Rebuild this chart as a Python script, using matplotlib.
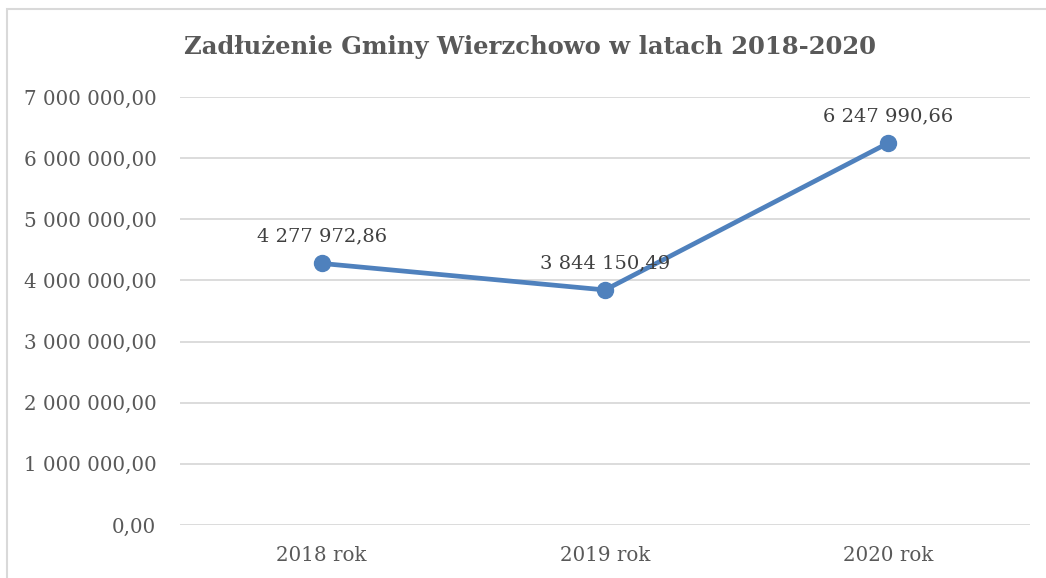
import matplotlib.pyplot as plt
from matplotlib.ticker import FuncFormatter
from matplotlib.patches import Rectangle

# dane
years = ['2018 rok', '2019 rok', '2020 rok']
debt = [4277972.86, 3844150.49, 6247990.66]
y_ticks = [0, 1000000, 2000000, 3000000, 4000000, 5000000, 6000000, 7000000]


def pl_format(v, pos=None):
    s = f'{v:,.2f}'
    return s.replace(',', ' ').replace('.', ',')


plt.rcParams['font.family'] = ['DejaVu Serif']

fig = plt.figure(figsize=(10.46, 5.78), dpi=100)
ax = fig.add_axes([0.1721, 0.0917, 0.8126, 0.7405])

x = range(len(years))
ax.plot(x, debt, color='#4f81bd', linewidth=3.4, marker='o', markersize=11.5, zorder=3)

for xi, v in zip(x, debt):
    ax.annotate(pl_format(v), (xi, v), xytext=(0, 13), textcoords='offset points',
                ha='center', va='bottom', fontsize=14, color='#404040')

ax.set_xlim(-0.5, len(years) - 0.5)
ax.set_ylim(0, 7000000)
ax.set_yticks(y_ticks)
ax.yaxis.set_major_formatter(FuncFormatter(pl_format))
ax.set_xticks(list(x))
ax.set_xticklabels(years)
ax.tick_params(axis='both', length=0, labelsize=14.3, labelcolor='#595959')
ax.tick_params(axis='y', pad=17)
ax.tick_params(axis='x', pad=15)
ax.grid(axis='y', color='#d9d9d9', linewidth=1.3)
ax.set_axisbelow(True)
for sp in ax.spines.values():
    sp.set_visible(False)

fig.text(0.507, 0.918, 'Zadłużenie Gminy Wierzchowo w latach 2018-2020',
         ha='center', va='center', fontsize=17.5, fontweight='bold', color='#595959')

# ramka wykresu
fig.patches.append(Rectangle((7 / 1046, -0.1), 1.2, 1.1 - 9 / 578, transform=fig.transFigure,
                             fill=False, edgecolor='#d9d9d9', linewidth=1.5))

fig.savefig('out.png', dpi=100)
